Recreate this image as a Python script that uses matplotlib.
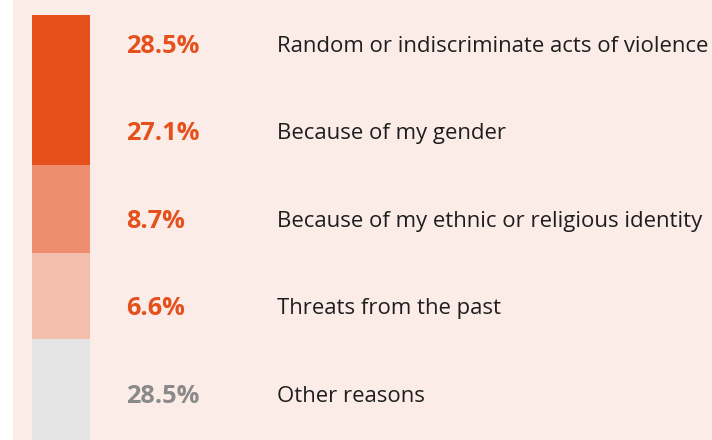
import numpy as np
import matplotlib.pyplot as plt

# data
reasons = ['Random or indiscriminate acts of violence', 'Because of my gender',
           'Because of my ethnic or religious identity', 'Threats from the past',
           'Other reasons']
shares = [28.5, 27.1, 8.7, 6.6, 28.5]
pct_colors = ['#E4511C', '#E4511C', '#E4511C', '#E4511C', '#8A8A8A']

# the bar on the left is drawn in blocks (in label rows), not to scale
block_rows = [1.714, 1.006, 0.983, 1.4]
block_colors = ['#E5501B', '#EF8D6F', '#F4BEAC', '#E5E5E5']

fig = plt.figure(figsize=(7.12, 4.40), dpi=100, facecolor='white')
ax = fig.add_axes([13 / 712, 0, 1 - 13 / 712, 1])
ax.set_xlim(13, 712)
ax.set_ylim(4.526, -0.503)
ax.axis('off')
# pink panel behind everything (axis('off') hides the axes facecolor)
ax.add_patch(plt.Rectangle((13, -1), 700, 7, color='#FBECE8', zorder=0))

bottoms = -0.331 + np.concatenate([[0], np.cumsum(block_rows)[:-1]])
ax.bar([61] * len(block_rows), block_rows, bottom=bottoms, width=58,
       color=block_colors, zorder=2)

rows = np.arange(len(reasons))
for i in rows:
    ax.text(126, i + 0.025, f'{shares[i]}%', color=pct_colors[i], fontsize=18.3,
            fontweight='bold', family='Open Sans', va='center', ha='left')
    ax.text(277, i + 0.025, reasons[i], color='#1E1E1E', fontsize=15.9,
            family='Open Sans', va='center', ha='left')

fig.savefig('out.png', dpi=100, facecolor='white')
